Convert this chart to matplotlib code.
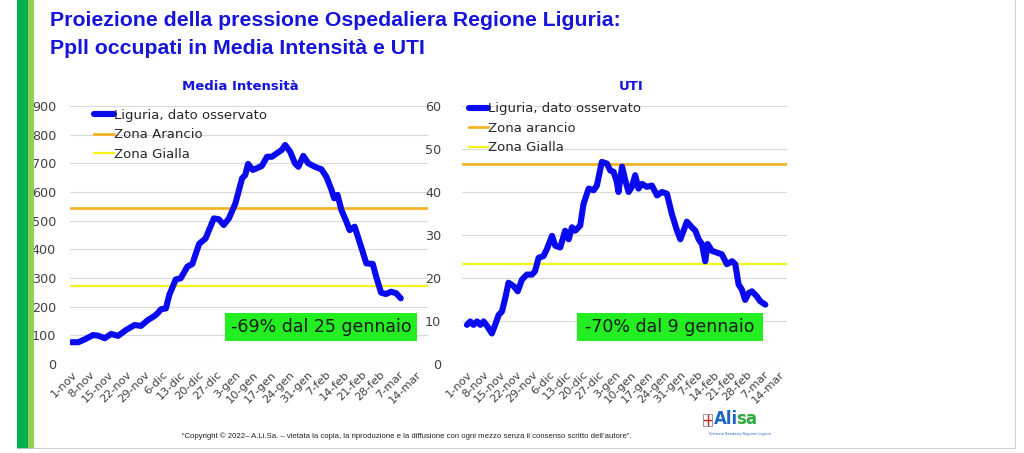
import numpy as np
import matplotlib
matplotlib.use("Agg")
from matplotlib import pyplot as plt
from matplotlib.patches import Rectangle

# date labels on the x axis (one every 7 days, starting 1-nov)
tick_labels = ['1-nov', '8-nov', '15-nov', '22-nov', '29-nov', '6-dic', '13-dic', '20-dic',
               '27-dic', '3-gen', '10-gen', '17-gen', '24-gen', '31-gen', '7-feb', '14-feb',
               '21-feb', '28-feb', '7-mar', '14-mar']

# Media Intensita: days since 1-nov and occupied beds
mi_days = [0, 2.6, 5.1, 8.3, 10.2, 12.8, 15.3, 17.9, 21.1, 24.3, 26.8, 29.4, 31.9, 33.2, 34.5,
           36.4, 37.7, 40.2, 42.1, 44.7, 46.6, 49.2, 51.7, 54.9, 56.8, 58.7, 60.7, 63.2, 65.8,
           67, 68.1, 69.9, 71.5, 73.4, 75.4, 77.3, 79.2, 81.1, 82.4, 84.3, 86.2, 87.5, 89.4,
           91.3, 93.9, 96.4, 98.3, 100.3, 101.3, 102.6, 104.1, 106, 107.3, 109.2, 111.7, 113.7,
           116.2, 117.5, 119.4, 121.3, 123.2, 125.2, 127]
mi_vals = [76, 76, 86, 101, 99, 90, 105, 98, 119, 136, 133, 153, 167, 177, 191,
           194, 241, 295, 299, 340, 349, 419, 438, 508, 505, 485, 508, 560, 648,
           659, 698, 677, 683, 691, 723, 723, 735, 747, 764, 741, 700, 688, 726,
           700, 688, 679, 653, 607, 578, 590, 537, 497, 467, 479, 409, 351,
           349, 305, 249, 244, 252, 247, 229]
mi_arancio = 545
mi_gialla = 272

# UTI
uti_days = [0, 1.4, 2.8, 4.3, 5.7, 7.1, 8.5, 10.6, 12, 13.5, 14.9, 16.3, 17.7, 19.9, 21.6,
            23.4, 25.5, 27.7, 29, 30.5, 32.6, 34, 36.2, 37.6, 39.7, 41.8, 43.3, 44.7, 46.1,
            48.2, 49.6, 51.8, 53.9, 55.3, 57.4, 59.6, 61, 62.4, 63.8, 64.5, 66, 67.4, 68.8,
            70.2, 71.6, 73, 74.5, 76.6, 78.7, 80.9, 83, 85.1, 87.2, 89.4, 90.8, 92.2, 93.6,
            95.7, 97.2, 98.6, 100, 101.4, 102.4, 104.3, 106.4, 108.5, 110.6, 112.8, 114.2,
            115.6, 117, 118.4, 119.9, 121.3, 123.4, 124.8, 127]
uti_vals = [9.1, 9.9, 9.1, 9.9, 9.1, 9.9, 8.9, 7.1, 9.1, 11.4, 12.2, 15.3, 18.9, 18.1, 16.9,
            19.6, 20.8, 20.8, 21.6, 24.7, 25.1, 26.7, 29.8, 27.5, 27.1, 31, 29, 31.8, 31,
            32.2, 37.2, 40.8, 40.4, 41.5, 47, 46.6, 45, 44.7, 42.3, 40, 45.9, 42.7, 40,
            41.2, 43.9, 40.8, 41.9, 41.2, 41.5, 39.2, 40, 39.6, 34.9, 31, 29, 31, 33.1,
            31.8, 31, 29, 27.9, 23.9, 27.9, 26.3, 25.9, 25.5, 23.2, 23.9, 23.2,
            18.5, 17.3, 14.9, 16.5, 16.9, 15.7, 14.6, 13.8]
uti_arancio = 46.5
uti_gialla = 23.2

BLUE = '#0A0AF0'
TITLE_BLUE = '#1414DC'
ORANGE = '#F5B01E'
YELLOW = '#F7F21A'
GREEN_BOX = '#22EE22'
GRID = '#D9D9D9'
TXT = '#404040'
NARROW = ['Liberation Sans Narrow', 'Liberation Sans', 'DejaVu Sans']

W, H = 1024, 453
fig = plt.figure(figsize=(W / 100, H / 100), dpi=100)
fig.patch.set_facecolor('white')


def px(x0, y0, x1, y1):
    # pixel box (left, top, right, bottom) -> figure fraction rect
    return [x0 / W, (H - y1) / H, (x1 - x0) / W, (y1 - y0) / H]


def panel(rect, days, vals, arancio, gialla, ymax, ystep, xlim, legend_labels,
          legend_anchor, ypad, note, note_box):
    ax = fig.add_axes(rect)
    ax.plot(days, vals, color=BLUE, lw=4.4, solid_capstyle='round', label=legend_labels[0], zorder=4)
    ax.axhline(arancio, color=ORANGE, lw=1.9, label=legend_labels[1], zorder=3)
    ax.axhline(gialla, color=YELLOW, lw=1.6, label=legend_labels[2], zorder=3)
    ax.set_ylim(0, ymax)
    ax.set_xlim(*xlim)
    ax.set_yticks(np.arange(0, ymax + 1, ystep))
    ax.set_xticks(np.arange(len(tick_labels)) * 7)
    ax.set_xticklabels(tick_labels, rotation=45, ha='right', rotation_mode='anchor')
    ax.tick_params(axis='both', length=0, colors=TXT)
    ax.tick_params(axis='y', pad=ypad, labelsize=9.2)
    ax.tick_params(axis='x', pad=4, labelsize=8.2)
    ax.grid(axis='y', color=GRID, lw=0.8)
    ax.set_axisbelow(True)
    for s in ax.spines.values():
        s.set_visible(False)
    leg = ax.legend(loc='upper left', bbox_to_anchor=legend_anchor, frameon=False,
                    fontsize=9.5, handlelength=1.5, handletextpad=0.0, borderpad=0,
                    borderaxespad=0, labelspacing=0.5)
    for t in leg.get_texts():
        t.set_color('#262626')
    x0, y0, x1, y1 = note_box
    ax.add_patch(Rectangle((x0, y0), x1 - x0, y1 - y0, transform=ax.transAxes,
                           facecolor=GREEN_BOX, edgecolor='none', zorder=5))
    ax.text((x0 + x1) / 2, (y0 + y1) / 2, note, transform=ax.transAxes, ha='center',
            va='center', fontsize=12.5, color='#1A1A1A', zorder=6)
    return ax


panel(px(70, 106, 428, 364), mi_days, mi_vals, mi_arancio, mi_gialla, 900, 100, (-0.6, 137.5),
      ['Liguria, dato osservato', 'Zona Arancio', 'Zona Gialla'], (0.068, 0.99), 10,
      '-69% dal 25 gennaio', (0.433, 0.089, 0.969, 0.198))
panel(px(462, 106, 787, 364), uti_days, uti_vals, uti_arancio, uti_gialla, 60, 10, (-2.1, 136.2),
      ['Liguria, dato osservato', 'Zona arancio', 'Zona Gialla'], (0.02, 1.015), 15,
      '-70% dal 9 gennaio', (0.354, 0.089, 0.926, 0.198))

# titles
fig.text(50 / W, 1 - 11 / H, 'Proiezione della pressione Ospedaliera Regione Liguria:',
         ha='left', va='top', fontsize=15.3, fontweight='bold', color=TITLE_BLUE, family=NARROW)
fig.text(50 / W, 1 - 39 / H, 'Ppll occupati in Media Intensità e UTI',
         ha='left', va='top', fontsize=15.3, fontweight='bold', color=TITLE_BLUE, family=NARROW)
fig.text(240 / W, 1 - 87 / H, 'Media Intensità', ha='center', va='center', fontsize=9.5,
         fontweight='bold', color=TITLE_BLUE)
fig.text(631 / W, 1 - 87 / H, 'UTI', ha='center', va='center', fontsize=9.5,
         fontweight='bold', color=TITLE_BLUE)

# left decorative bars and frame
fig.add_artist(Rectangle((17 / W, 4 / H), 11 / W, 1 - 4 / H, transform=fig.transFigure,
                         facecolor='#00B050', edgecolor='none'))
fig.add_artist(Rectangle((28 / W, 4 / H), 6 / W, 1 - 4 / H, transform=fig.transFigure,
                         facecolor='#92D050', edgecolor='none'))
fig.add_artist(plt.Line2D([17 / W, 1015 / W], [5 / H, 5 / H], transform=fig.transFigure,
                          color='#C8C8C8', lw=0.6))
fig.add_artist(plt.Line2D([1015 / W, 1015 / W], [5 / H, 1], transform=fig.transFigure,
                          color='#C8C8C8', lw=0.6))

# footer and logo
fig.text(407 / W, 1 - 436 / H, '“Copyright © 2022– A.Li.Sa. – vietata la copia, la riproduzione '
         'e la diffusione con ogni mezzo senza il consenso scritto dell’autore”.',
         ha='center', va='center', fontsize=5.6, color='#222222', family=NARROW)
# small shield emblem
fig.add_artist(Rectangle((703 / W, (H - 426) / H), 9 / W, 12 / H, transform=fig.transFigure,
                         facecolor='white', edgecolor='#888888', lw=0.6))
fig.add_artist(plt.Line2D([707.5 / W, 707.5 / W], [(H - 425) / H, (H - 415) / H],
                          transform=fig.transFigure, color='#D02020', lw=1.0))
fig.add_artist(plt.Line2D([704 / W, 711 / W], [(H - 420) / H, (H - 420) / H],
                          transform=fig.transFigure, color='#D02020', lw=1.0))
renderer = fig.canvas.get_renderer()
ali = fig.text(714 / W, 1 - 419 / H, 'Ali', ha='left', va='center', fontsize=12,
               fontweight='bold', color='#1E64C8')
ali_end = ali.get_window_extent(renderer).x1 - 2
fig.text(ali_end / W, 1 - 419 / H, 'sa', ha='left', va='center', fontsize=12,
         fontweight='bold', color='#2EAA3C')
fig.text(740 / W, 1 - 434 / H, 'Sistema Sanitario Regione Liguria', ha='center', va='center',
         fontsize=2.6, color='#1E64C8')

fig.savefig('out.png', dpi=100)
